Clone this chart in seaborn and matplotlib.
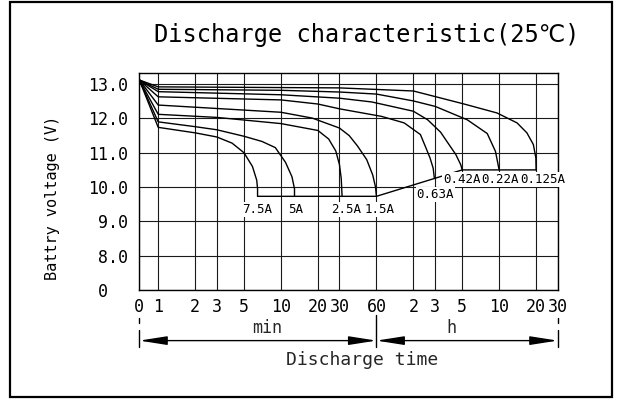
import numpy as np
import pandas as pd
import matplotlib
matplotlib.use("Agg")
import matplotlib.pyplot as plt
import matplotlib.patches as patches
import seaborn as sns

# ---------------- data ----------------
tick_minutes = [0, 1, 2, 3, 5, 10, 20, 30, 60, 120, 180, 300, 600, 1200, 1800]
tick_labels = ["0", "1", "2", "3", "5", "10", "20", "30", "60", "2", "3", "5", "10", "20", "30"]
y_ticks = [7, 8, 9, 10, 11, 12, 13]
y_tick_labels = ["0  ", "8.0", "9.0", "10.0", "11.0", "12.0", "13.0"]

t_75 = [0, 1, 2, 3, 4, 5, 5.86, 6.35, 6.45, 6.45]
v_75 = [13.12, 11.74, 11.58, 11.46, 11.28, 11.0, 10.6, 10.2, 9.95, 9.73]
t_5 = [0, 1, 2, 3, 5, 7, 9, 10.9, 12.3, 12.9, 12.9]
v_5 = [13.12, 11.90, 11.76, 11.67, 11.48, 11.33, 11.15, 10.72, 10.3, 9.95, 9.73]
t_25 = [0, 1, 3, 10, 20, 24.5, 28, 30, 31, 31.5]
v_25 = [13.12, 12.12, 12.03, 11.85, 11.65, 11.4, 11.05, 10.65, 10.25, 9.73]
t_15 = [0, 1, 3, 10, 18, 30, 36, 42, 50, 56, 59, 60]
v_15 = [13.12, 12.39, 12.29, 12.18, 12.01, 11.72, 11.5, 11.2, 10.8, 10.35, 10.0, 9.73]
t_063 = [0, 1, 10, 20, 30, 66, 101, 137, 152, 164, 174, 178]
v_063 = [13.12, 12.63, 12.54, 12.42, 12.28, 12.06, 11.87, 11.53, 11.14, 10.85, 10.55, 10.25]
t_042 = [0, 1, 10, 30, 55, 120, 157, 200, 228, 266, 292, 300]
v_042 = [13.12, 12.78, 12.69, 12.59, 12.48, 12.21, 11.96, 11.6, 11.3, 10.95, 10.65, 10.5]
t_022 = [0, 1, 10, 30, 60, 120, 181, 330, 480, 560, 600]
v_022 = [13.12, 12.85, 12.82, 12.77, 12.71, 12.51, 12.35, 11.96, 11.56, 11.04, 10.5]
t_0125 = [0, 1, 10, 30, 120, 311, 576, 840, 1010, 1140, 1195, 1200]
v_0125 = [13.12, 12.92, 12.9, 12.89, 12.8, 12.42, 12.16, 11.87, 11.58, 11.24, 10.85, 10.5]

t_end = [6.45, 60, 300, 1200]
v_end = [9.73, 9.73, 10.5, 10.5]

curve_names = ["7.5A", "5A", "2.5A", "1.5A", "0.63A", "0.42A", "0.22A", "0.125A"]
curve_t = [t_75, t_5, t_25, t_15, t_063, t_042, t_022, t_0125]
curve_v = [v_75, v_5, v_25, v_15, v_063, v_042, v_022, v_0125]

label_t = [6.4, 13.2, 34.1, 63.9, 181, 297, 611, 1366]
label_v = [9.34, 9.34, 9.34, 9.34, 9.78, 10.22, 10.22, 10.22]

# ---------------- style ----------------
sns.set_theme(style="white")
FAM = ["DejaVu Sans Mono", "DejaVu Sans"]
plt.rcParams["font.family"] = FAM

K = 0.154


def fwd(t):
    t = np.asarray(t, dtype=float)
    return np.where(t >= 1, np.log10(np.maximum(t, 1)), (t - 1) * K)


def inv(u):
    u = np.asarray(u, dtype=float)
    return np.where(u >= 0, np.power(10.0, np.maximum(u, 0)), 1 + u / K)


fig = plt.figure(figsize=(6.2, 4.0), dpi=100)
ax = fig.add_axes([0.2247, 0.275, 0.6748, 0.543])
ax.set_xscale("function", functions=(fwd, inv))
ax.set_xlim(0, 1800)
ax.set_ylim(7, 13.33)

for name, tt, vv in zip(curve_names, curve_t, curve_v):
    df = pd.DataFrame({"t": tt, "v": vv})
    sns.lineplot(data=df, x="t", y="v", sort=False, estimator=None,
                 color="black", lw=1.0, ax=ax)
sns.lineplot(x=t_end, y=v_end, sort=False, estimator=None, color="black", lw=1.0, ax=ax)

ax.set_xticks(tick_minutes)
ax.set_xticklabels(tick_labels)
ax.set_yticks(y_ticks)
ax.set_yticklabels(y_tick_labels)
ax.xaxis.set_minor_locator(matplotlib.ticker.NullLocator())
ax.tick_params(axis="both", length=0, labelsize=12, colors="black")
ax.tick_params(axis="x", pad=6)
ax.tick_params(axis="y", pad=8)
ax.grid(True, color="#1a1a1a", lw=0.8)
ax.set_axisbelow(True)
for s in ax.spines.values():
    s.set_color("black")
    s.set_linewidth(1.0)
    s.set_visible(True)

ax.set_xlabel("")
ax.set_ylabel("Battry voltage (V)", fontsize=11, color="black")
ax.yaxis.set_label_coords(-0.19, 0.426)

for name, lt, lv in zip(curve_names, label_t, label_v):
    ax.text(lt, lv, name, ha="center", va="center", fontsize=9, color="black",
            clip_on=False, zorder=5,
            bbox=dict(fc="white", ec="none", pad=0.6))

# dimension lines below axis
tr = ax.get_xaxis_transform()
arrow_y = -0.233
arrow_style = "<|-|>,head_length=1.4,head_width=0.22"
ax.annotate("", xy=(0, arrow_y), xytext=(60, arrow_y), xycoords=tr, textcoords=tr,
            arrowprops=dict(arrowstyle=arrow_style, color="black", lw=1.0,
                            shrinkA=0, shrinkB=0), annotation_clip=False)
ax.annotate("", xy=(60, arrow_y), xytext=(1800, arrow_y), xycoords=tr, textcoords=tr,
            arrowprops=dict(arrowstyle=arrow_style, color="black", lw=1.0,
                            shrinkA=0, shrinkB=0), annotation_clip=False)
for xt, y0 in [(0, -0.184), (60, -0.115), (1800, -0.184)]:
    ax.plot([xt, xt], [y0, -0.261], transform=tr, color="black", lw=1.0, clip_on=False)
for xt in [0, 1800]:
    ax.plot([xt, xt], [-0.13, -0.15], transform=tr, color="black", lw=1.0, clip_on=False)

ax.text(0.3045, -0.176, "min", transform=ax.transAxes, ha="center", va="center", fontsize=12)
ax.text(0.7467, -0.176, "h", transform=ax.transAxes, ha="center", va="center", fontsize=12)
ax.text(0.5316, -0.322, "Discharge time", transform=ax.transAxes, ha="center", va="center",
        fontsize=13)

fig.text(0.5915, 0.9125, "Discharge characteristic(25\u2103)", ha="center", va="center",
         fontsize=17, color="black")

border = patches.Rectangle((0.0161, 0.00675), 0.9705, 0.988, transform=fig.transFigure,
                           fill=False, ec="black", lw=1.6)
fig.patches.append(border)

fig.savefig("out.png", dpi=100)
